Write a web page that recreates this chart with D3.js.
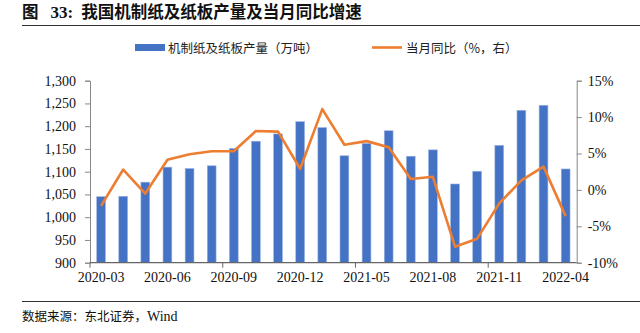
<!DOCTYPE html>
<html><head><meta charset="utf-8">
<script src="https://cdn.jsdelivr.net/npm/d3@7/dist/d3.min.js"></script>
<style>
body{margin:0;background:#fff;}
svg{display:block;}
</style></head>
<body>
<svg id="c" width="640" height="333"></svg>
<script>
const categories = ["2020-03","2020-04","2020-05","2020-06","2020-07","2020-08","2020-09","2020-10","2020-11","2020-12",
"2021-03","2021-04","2021-05","2021-06","2021-07","2021-08","2021-09","2021-10","2021-11","2021-12","2022-03","2022-04"];
const output = [1045,1046,1077,1110,1107,1113,1151,1167,1183,1210,1197,1135,1162,1190,1134,1148,1073,1101,1158,1235,1246,1106];
const yoy = [-2.2,2.8,-0.5,4.15,4.9,5.3,5.3,8.1,8.0,2.9,11.1,6.2,6.7,5.85,1.5,1.8,-7.8,-6.7,-1.85,1.3,3.2,-3.6];
const leftTicks = [900,950,1000,1050,1100,1150,1200,1250,1300];
const rightTicks = [-10,-5,0,5,10,15];
const labelCats = ["2020-03","2020-06","2020-09","2020-12","2021-05","2021-08","2021-11","2022-04"];
const tickCats = ["2020-03","2020-09","2021-05","2021-11"];

const svg = d3.select("#c");
const serif = "'Liberation Serif','Times New Roman',serif";
const cjk = "'Noto Sans CJK SC',sans-serif";
const L = 90, R = 576.7, T = 80.7, B = 262.7;

// title
const tt = svg.append("text").attr("x",22).attr("y",18).attr("font-family",cjk).attr("font-weight","bold")
  .attr("font-size",16.5).attr("fill","#111");
tt.append("tspan").text("图");
tt.append("tspan").attr("dx",12).attr("font-family",serif).attr("font-size",17).text("33:");
tt.append("tspan").attr("dx",8).text("我国机制纸及纸板产量及当月同比增速");
svg.append("line").attr("x1",22).attr("x2",640).attr("y1",25.5).attr("y2",25.5).attr("stroke","#333").attr("stroke-width",1);
svg.append("line").attr("x1",22).attr("x2",640).attr("y1",301.5).attr("y2",301.5).attr("stroke","#333").attr("stroke-width",1);
const st = svg.append("text").attr("x",22).attr("y",321).attr("font-family",cjk).attr("font-size",12.5).attr("fill","#111");
st.append("tspan").text("数据来源：东北证券，");
st.append("tspan").attr("font-family",serif).attr("font-size",14).text("Wind");

const xc = d3.scaleBand().domain(categories).range([L,R]);
const y = d3.scaleLinear().domain([900,1300]).range([B,T]);
const y2 = d3.scaleLinear().domain([-10,15]).range([B,T]);

// bars
svg.append("g").selectAll("rect").data(output).join("rect")
  .attr("x",(d,i)=>xc(categories[i])+xc.bandwidth()/2-4.4)
  .attr("width",8.8)
  .attr("y",d=>y(d)).attr("height",d=>B-y(d))
  .attr("fill","#4472C4").attr("stroke","#9db4e0").attr("stroke-width",0.6);

// line
const line = d3.line().x((d,i)=>xc(categories[i])+xc.bandwidth()/2).y(d=>y2(d));
svg.append("path").datum(yoy).attr("d",line).attr("fill","none").attr("stroke","#ED7D31")
  .attr("stroke-width",2.6).attr("stroke-linejoin","round");

// left axis
const gl = svg.append("g").attr("transform",`translate(${L},0)`)
  .call(d3.axisLeft(y).tickValues(leftTicks).tickSize(5).tickFormat(d3.format(",")));
gl.select(".domain").attr("stroke","#888");
gl.selectAll(".tick line").attr("stroke","#888");
gl.selectAll("text").attr("font-family",serif).attr("font-size",14).attr("fill","#111").attr("x",-14);

// right axis
const gr = svg.append("g").attr("transform",`translate(${R},0)`)
  .call(d3.axisRight(y2).tickValues(rightTicks).tickSize(5).tickFormat(d=>d+"%"));
gr.select(".domain").attr("stroke","#888");
gr.selectAll(".tick line").attr("stroke","#888");
gr.selectAll("text").attr("font-family",serif).attr("font-size",14).attr("fill","#111").attr("x",11);

// bottom axis
const gb = svg.append("g").attr("transform",`translate(0,${B})`);
gb.append("line").attr("x1",L).attr("x2",R).attr("y1",0).attr("y2",0).attr("stroke","#666").attr("stroke-width",1.2);
gb.selectAll("line.tk").data(tickCats).join("line").attr("class","tk")
  .attr("x1",d=>xc(d)).attr("x2",d=>xc(d)).attr("y1",0).attr("y2",5).attr("stroke","#666");
gb.selectAll("text").data(labelCats).join("text")
  .attr("x",d=>xc(d)+xc.bandwidth()/2).attr("y",19).attr("text-anchor","middle")
  .attr("font-family",serif).attr("font-size",14).attr("fill","#111").text(d=>d);

// legend
const lg = svg.append("g");
lg.append("rect").attr("x",135).attr("y",44).attr("width",30).attr("height",7).attr("fill","#4472C4");
lg.append("text").attr("x",168).attr("y",52.5).attr("font-family",cjk).attr("font-size",12.5).attr("fill","#222")
  .text("机制纸及纸板产量（万吨）");
lg.append("line").attr("x1",372).attr("x2",402).attr("y1",47.5).attr("y2",47.5).attr("stroke","#ED7D31").attr("stroke-width",2.6);
lg.append("text").attr("x",406).attr("y",52.5).attr("font-family",cjk).attr("font-size",12.5).attr("fill","#222")
  .text("当月同比（%，右）");
</script>
</body></html>
